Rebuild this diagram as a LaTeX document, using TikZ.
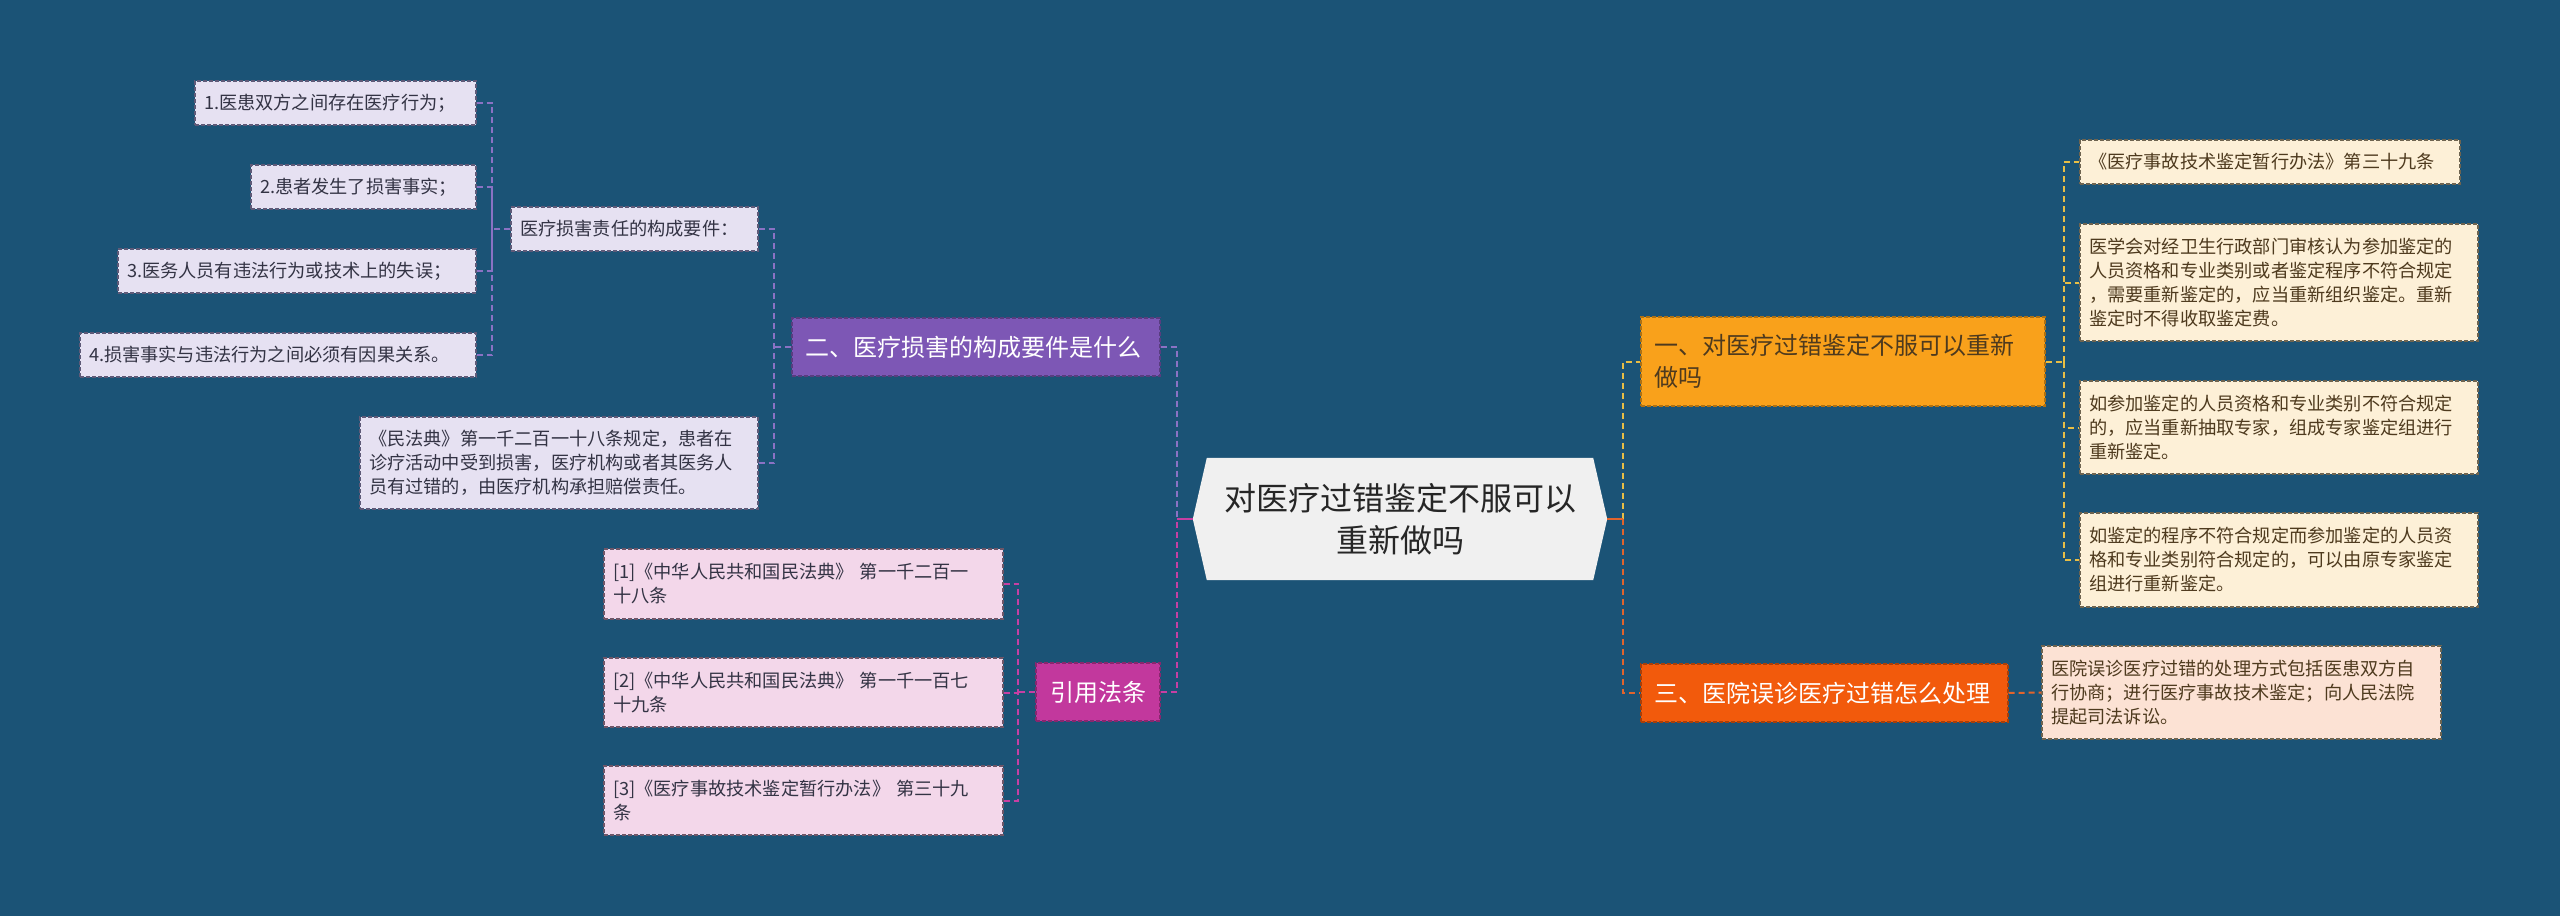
\documentclass[tikz,border=0pt]{standalone}
\usepackage{fontspec}
\setmainfont{Noto Sans CJK SC}
\usetikzlibrary{backgrounds}
\definecolor{bgc}{HTML}{1B5376}
\definecolor{purpnode}{HTML}{7D57B5}
\definecolor{lavfill}{HTML}{E6E1F2}
\definecolor{lavline}{HTML}{5E5A78}
\definecolor{pinkfill}{HTML}{F3D7EA}
\definecolor{pinkline}{HTML}{6E5668}
\definecolor{magnode}{HTML}{C2389D}
\definecolor{orgnode}{HTML}{F9A11B}
\definecolor{creamfill}{HTML}{FDF0D7}
\definecolor{creamline}{HTML}{6E6450}
\definecolor{rednode}{HTML}{F25A0C}
\definecolor{peachfill}{HTML}{FCE2D4}
\definecolor{centerfill}{HTML}{F0F0F0}
\definecolor{cpurp}{HTML}{8A72C4}
\definecolor{cmag}{HTML}{C73FA3}
\definecolor{cyel}{HTML}{E8BE45}
\definecolor{cred}{HTML}{E2642C}
\definecolor{txtdark}{HTML}{333344}
\definecolor{txtbrown}{HTML}{4E3A1E}
\begin{document}
\begin{tikzpicture}[x=1pt,y=-1pt,
  leafbase/.style={rectangle, line width=1.2pt, dash pattern=on 4pt off 2pt,
    inner xsep=9pt, inner ysep=0pt, align=left,
    font=\fontsize{18.2}{24}\selectfont},
  lav/.style={leafbase, fill=lavfill, draw=lavline, text=txtdark},
  pnk/.style={leafbase, fill=pinkfill, draw=pinkline, text=txtdark},
  crm/.style={leafbase, fill=creamfill, draw=creamline, text=txtbrown},
  pch/.style={leafbase, fill=peachfill, draw=creamline, text=txtbrown},
  mainbase/.style={rectangle, line width=1.2pt, dash pattern=on 4pt off 2pt,
    inner xsep=13pt, inner ysep=0pt, align=left,
    font=\fontsize{24}{32}\selectfont},
  conn/.style={line width=2pt, dash pattern=on 6pt off 4pt},
  stub/.style={line width=2.4pt}
]
\useasboundingbox (0,0) rectangle (2560,916);

% center
\node[rectangle, minimum width=414pt, minimum height=122pt, inner sep=0pt,
  align=center, text=black!85, font=\fontsize{32}{42}\selectfont]
  (c) at (1400,519) {对医疗过错鉴定不服可以\\重新做吗};
\begin{scope}[on background layer]
\fill[bgc] (0,0) rectangle (2560,916);
\fill[centerfill] ([xshift=14pt]c.north west) -- ([xshift=-14pt]c.north east)
  -- (c.east) -- ([xshift=-14pt]c.south east) -- ([xshift=14pt]c.south west)
  -- (c.west) -- cycle;
\end{scope}

% main branches
\node[mainbase, fill=purpnode, draw=purpnode!70!black, text=white,
  text width=342pt, minimum height=58pt] (p2) at (976,347) {二、医疗损害的构成要件是什么};
\node[mainbase, fill=magnode, draw=magnode!70!black, text=white, align=center,
  text width=98pt, minimum height=58pt] (cite) at (1098,692) {引用法条};
\node[mainbase, fill=orgnode, draw=orgnode!70!black, text=txtbrown,
  text width=378pt, minimum height=89pt] (o1) at (1843,361.5) {一、对医疗过错鉴定不服可以重新\\做吗};
\node[mainbase, fill=rednode, draw=rednode!70!black, text=white,
  text width=341pt, minimum height=58pt] (o3) at (1824.5,693) {三、医院误诊医疗过错怎么处理};

% left leaves
\node[lav, text width=263pt, minimum height=44pt] (l1) at (335.5,103) {1.医患双方之间存在医疗行为；};
\node[lav, text width=207pt, minimum height=44pt] (l2) at (363.5,187) {2.患者发生了损害事实；};
\node[lav, text width=340pt, minimum height=44pt] (l3) at (297,271) {3.医务人员有违法行为或技术上的失误；};
\node[lav, text width=378pt, minimum height=44pt] (l4) at (278,355) {4.损害事实与违法行为之间必须有因果关系。};
\node[lav, text width=229pt, minimum height=44pt] (req) at (634.5,229) {医疗损害责任的构成要件：};
\node[lav, text width=380pt, minimum height=92pt] (civ) at (559,463)
  {《民法典》第一千二百一十八条规定，患者在\\诊疗活动中受到损害，医疗机构或者其医务人\\员有过错的，由医疗机构承担赔偿责任。};

\node[pnk, text width=381pt, minimum height=70pt] (r1) at (803.5,584) {[1]《中华人民共和国民法典》 第一千二百一\\十八条};
\node[pnk, text width=381pt, minimum height=69pt] (r2) at (803.5,692.5) {[2]《中华人民共和国民法典》 第一千一百七\\十九条};
\node[pnk, text width=381pt, minimum height=69pt] (r3) at (803.5,800.5) {[3]《医疗事故技术鉴定暂行办法》 第三十九\\条};

% right leaves
\node[crm, text width=362pt, minimum height=44pt] (ra) at (2270,162) {《医疗事故技术鉴定暂行办法》第三十九条};
\node[crm, text width=380pt, minimum height=117pt] (rb) at (2279,282.5)
  {医学会对经卫生行政部门审核认为参加鉴定的\\人员资格和专业类别或者鉴定程序不符合规定\\，需要重新鉴定的，应当重新组织鉴定。重新\\鉴定时不得收取鉴定费。};
\node[crm, text width=380pt, minimum height=93pt] (rc) at (2279,427.5)
  {如参加鉴定的人员资格和专业类别不符合规定\\的，应当重新抽取专家，组成专家鉴定组进行\\重新鉴定。};
\node[crm, text width=380pt, minimum height=94pt] (rd) at (2279,560)
  {如鉴定的程序不符合规定而参加鉴定的人员资\\格和专业类别符合规定的，可以由原专家鉴定\\组进行重新鉴定。};
\node[pch, text width=381pt, minimum height=93pt] (re) at (2241.5,692.5)
  {医院误诊医疗过错的处理方式包括医患双方自\\行协商；进行医疗事故技术鉴定；向人民法院\\提起司法诉讼。};

% trunks
\coordinate (lt) at (1177,519);
\coordinate (rt) at (1623,519);
\draw[conn, cpurp] (p2.east) -| (lt);
\draw[conn, cmag] (cite.east) -| (lt);
\draw[stub, cmag] (c.west) -- (lt);
\draw[conn, cyel] (rt) |- (o1.west);
\draw[conn, cred] (rt) |- (o3.west);
\draw[stub, cred] (c.east) -- (rt);

% left sub-branches
\path (p2.west) -- ++(-17,0) coordinate (j2);
\draw[conn, cpurp] (p2.west) -- (j2);
\draw[conn, cpurp] (req.east) -| (j2);
\draw[conn, cpurp] (civ.east) -| (j2);
\path (req.west) -- ++(-18,0) coordinate (j1);
\draw[conn, cpurp] (req.west) -- (j1);
\foreach \n in {l1,l2,l3,l4} \draw[conn, cpurp] (\n.east) -| (j1);
\path (cite.west) -- ++(-17,0) coordinate (j3);
\draw[conn, cmag] (cite.west) -- (j3);
\foreach \n in {r1,r2,r3} \draw[conn, cmag] (\n.east) -| (j3);

% right sub-branches
\path (o1.east) -- ++(18,0) coordinate (j4);
\draw[conn, cyel] (o1.east) -- (j4);
\foreach \n in {ra,rb,rc,rd} \draw[conn, cyel] (j4) |- (\n.west);
\draw[conn, cred] (o3.east) -- (re.west);
\end{tikzpicture}
\end{document}
